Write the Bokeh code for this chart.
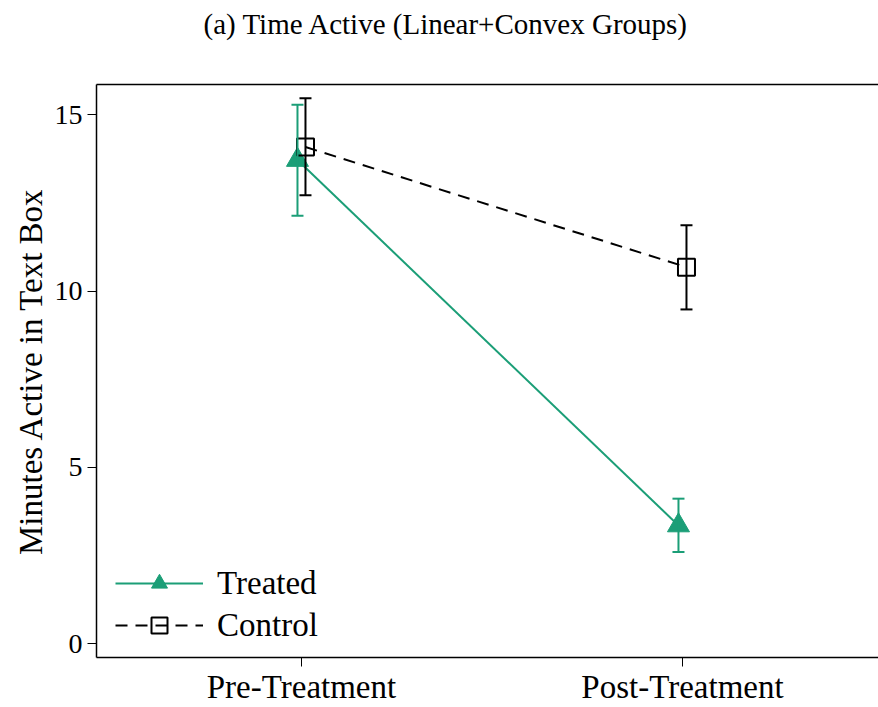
from bokeh.plotting import figure
from bokeh.models import (ColumnDataSource, Whisker, TeeHead, FixedTicker, LinearAxis,
                          Legend, LegendItem, Range1d)
from bokeh.embed import file_html
from bokeh.resources import INLINE

# Mean minutes active in the text box, with 95% confidence bounds
periods = ["Pre-Treatment", "Post-Treatment"]
treated_mean = [13.72, 3.35]
treated_lo = [12.14, 2.60]
treated_hi = [15.29, 4.11]
control_mean = [14.09, 10.68]
control_lo = [12.72, 9.48]
control_hi = [15.47, 11.87]
y_ticks = [0, 5, 10, 15]

GREEN = "#1b9e77"
FONT = "Liberation Serif"
DODGE = 0.0105  # small horizontal offset so the two groups don't overlap

base_x = [i + 1 for i in range(len(periods))]
treated = ColumnDataSource(dict(x=[b - DODGE for b in base_x], y=treated_mean,
                                lo=treated_lo, hi=treated_hi))
control = ColumnDataSource(dict(x=[b + DODGE for b in base_x], y=control_mean,
                                lo=control_lo, hi=control_hi))

p = figure(width=878, height=707, output_backend="svg", toolbar_location=None,
           x_range=Range1d(0.462, 2.5145), y_range=Range1d(-0.397, 15.863),
           min_border_left=96, min_border_right=0, min_border_top=84, min_border_bottom=49)
p.background_fill_color = "white"
p.border_fill_color = "white"
p.outline_line_color = None
p.grid.visible = False

# lines
tl = p.line("x", "y", source=treated, line_color=GREEN, line_width=2)
cl = p.line("x", "y", source=control, line_color="black", line_width=2, line_dash="12 8")

# markers
tm = p.scatter("x", "y", source=treated, marker="triangle", size=22,
               fill_color=GREEN, line_color=GREEN, line_width=1)
cm = p.scatter("x", "y", source=control, marker="square", size=17,
               fill_color=None, line_color="black", line_width=2)

# confidence intervals
for src, col in ((treated, GREEN), (control, "black")):
    w = Whisker(base="x", lower="lo", upper="hi", source=src, dimension="height",
                line_color=col, line_width=2, level="overlay",
                lower_head=TeeHead(size=12, line_color=col, line_width=2),
                upper_head=TeeHead(size=12, line_color=col, line_width=2))
    p.add_layout(w)

# axes
xa = p.xaxis[0]
xa.ticker = FixedTicker(ticks=base_x)
xa.major_label_overrides = {b: lab for b, lab in zip(base_x, periods)}
ya = p.yaxis[0]
ya.ticker = FixedTicker(ticks=y_ticks)
ya.axis_label = "Minutes Active in Text Box"
ya.axis_label_standoff = 3
ya.axis_label_text_font_style = "normal"
ya.major_label_orientation = "horizontal"
for ax in (xa, ya):
    ax.axis_line_width = 1.5
    ax.axis_line_color = "black"
    ax.major_tick_line_color = "black"
    ax.major_tick_line_width = 1
    ax.major_tick_in = 0
    ax.major_tick_out = 9
    ax.minor_tick_line_color = None
    ax.major_label_text_font = FONT
    ax.major_label_text_color = "black"
    ax.axis_label_text_font = FONT
    ax.axis_label_text_color = "black"
xa.major_label_text_font_size = "33px"
ya.major_label_text_font_size = "28px"
ya.axis_label_text_font_size = "33px"
xa.major_label_standoff = 2
ya.major_label_standoff = 5

# top border of the frame; an undrawn tick reserves the gap under the title
top = LinearAxis(ticker=FixedTicker(ticks=base_x[:1]), axis_line_width=1.5,
                 axis_line_color="black",
                 major_tick_line_color=None, minor_tick_line_color=None,
                 major_tick_in=0, major_tick_out=40,
                 major_label_overrides={base_x[0]: ""},
                 major_label_text_font_size="0px", major_label_text_alpha=0,
                 major_label_standoff=0)
p.add_layout(top, "above")

# title
p.title.text = "(a) Time Active (Linear+Convex Groups)"
p.title.text_font = FONT
p.title.text_font_size = "29px"
p.title.text_font_style = "normal"
p.title.text_color = "black"
p.title.align = "left"
p.title.vertical_align = "bottom"
p.title.offset = 107
p.title.standoff = 10

legend = Legend(items=[LegendItem(label="Treated", renderers=[tl, tm]),
                       LegendItem(label="Control", renderers=[cl, cm])],
                location=(19, 12), orientation="vertical",
                glyph_width=88, glyph_height=40, spacing=2, label_height=40,
                label_standoff=14, padding=8, margin=0,
                label_text_font=FONT, label_text_font_size="33px",
                label_text_color="black",
                background_fill_alpha=0, border_line_color=None)
p.add_layout(legend)

open("out.html", "w").write(file_html(p, INLINE))
